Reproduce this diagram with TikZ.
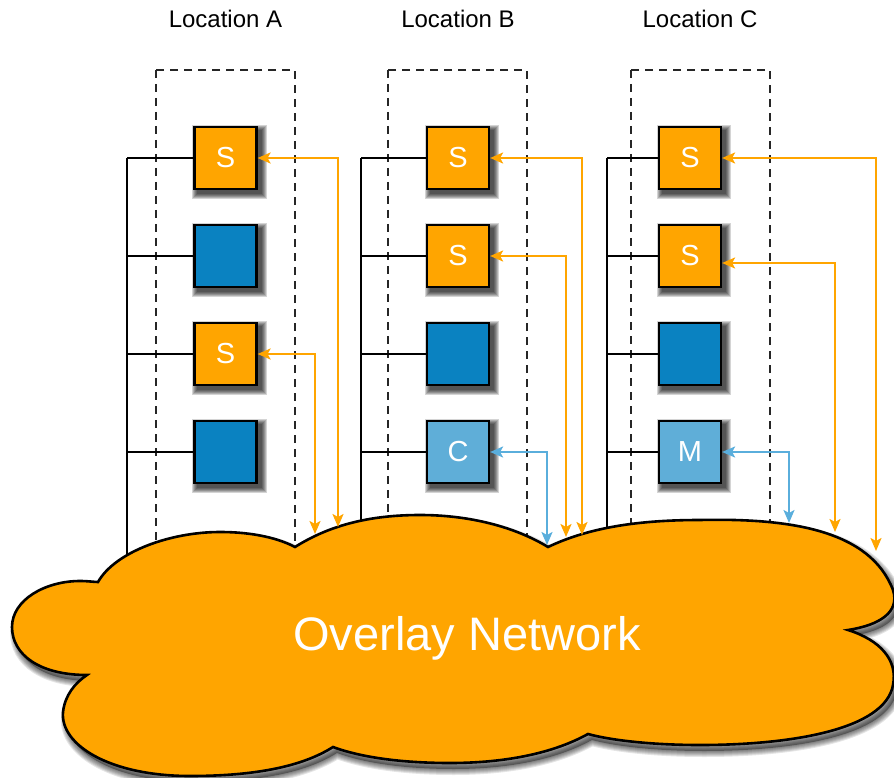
\documentclass[tikz,border=0pt]{standalone}
\usepackage{fontspec}
\setmainfont{Liberation Sans}
\usetikzlibrary{arrows.meta,backgrounds}
\definecolor{netorange}{HTML}{FFA500}
\definecolor{nodeblue}{HTML}{0A82C1}
\definecolor{lightblue}{HTML}{5FAED8}
\definecolor{arrowblue}{HTML}{5AAEDC}
\newcommand{\softshadow}[1]{%
  \foreach \g in {0,...,5}{
    \fill[black, opacity=0.17]
      ([shift={(4-\g,4-\g)}]#1.north west) rectangle ([shift={(4+\g,4+\g)}]#1.south east);
  }%
}
\begin{document}
\begin{tikzpicture}[x=1pt,y=-1pt,
  box/.style={draw=black, line width=2.2pt, minimum size=62pt, inner sep=0pt,
    text=white, font=\fontsize{29}{34}\selectfont},
  sbox/.style={box, fill=netorange},
  bbox/.style={box, fill=nodeblue},
  lbox/.style={box, fill=lightblue},
  loc/.style={font=\fontsize{24}{28}\selectfont, anchor=base},
  site/.style={draw=black!85, line width=2.2pt, dash pattern=on 8pt off 6pt},
  bus/.style={draw=black, line width=2.6pt},
  tap/.style={draw=black, line width=2pt},
  olink/.style={draw=netorange, line width=2.2pt,
    {Stealth[length=13pt,width=11pt,inset=3pt]}-{Stealth[length=13pt,width=11pt,inset=3pt]}},
  blink/.style={olink, draw=arrowblue},
  cloudoutline/.style={insert path={
  (98,582) .. controls (115,552) and (170,532) .. (220,532)
  .. controls (255,532) and (280,539) .. (295,547)
  .. controls (330,525) and (370,515) .. (420,515)
  .. controls (470,515) and (515,527) .. (548,547)
  .. controls (590,527) and (640,520) .. (700,520)
  .. controls (790,518) and (870,530) .. (893,590)
  .. controls (900,612) and (880,625) .. (848,630)
  .. controls (880,640) and (898,660) .. (893,685)
  .. controls (885,730) and (790,745) .. (700,745)
  .. controls (650,745) and (610,740) .. (588,734)
  .. controls (550,755) and (500,763) .. (450,763)
  .. controls (400,763) and (360,757) .. (333,747)
  .. controls (300,768) and (250,776) .. (190,776)
  .. controls (110,776) and (60,745) .. (63,712)
  .. controls (65,695) and (75,683) .. (87,675)
  .. controls (40,675) and (12,655) .. (12,627)
  .. controls (12,600) and (45,581) .. (80,581)
  .. controls (88,581) and (94,582) .. (98,582) -- cycle}},
  cloudshape/.style={fill=netorange, draw=black, line width=2.6pt},
  nettext/.style={text=white, font=\fontsize{47}{54}\selectfont, anchor=base}
]
\useasboundingbox (0,0) rectangle (894,778);

% location labels
\node[loc] (locA) at (225.5,28) {Location A};
\node[loc] (locB) at (458,28) {Location B};
\node[loc] (locC) at (700,28) {Location C};

% bus coordinates
\coordinate (busA) at (127,580);
\coordinate (busB) at (361,580);
\coordinate (busC) at (607,580);

% boxes
\node[sbox] (a1) at (225.5,158) {S};
\node[bbox] (a2) at (225.5,256) {};
\node[sbox] (a3) at (225.5,354) {S};
\node[bbox] (a4) at (225.5,452) {};

\node[sbox] (b1) at (458,158) {S};
\node[sbox] (b2) at (458,256) {S};
\node[bbox] (b3) at (458,354) {};
\node[lbox] (b4) at (458,452) {C};

\node[sbox] (c1) at (690,158) {S};
\node[sbox] (c2) at (690,256) {S};
\node[bbox] (c3) at (690,354) {};
\node[lbox] (c4) at (690,452) {M};

\begin{scope}[on background layer]
  % box shadows
  \foreach \n in {a1,a2,a3,a4,b1,b2,b3,b4,c1,c2,c3,c4}{\softshadow{\n}}
  % sites (dashed)
  \draw[site] (156,70) rectangle (295,600);
  \draw[site] (388,70) rectangle (527,600);
  \draw[site] (631,70) rectangle (770,600);
  % buses and taps
  \foreach \s/\b in {a/busA,b/busB,c/busC}{
    \draw[bus] (\s1.west -| \b) -- (\b);
    \foreach \i in {1,2,3,4}{
      \draw[tap] (\s\i.west) -- (\s\i.west -| \b);
    }
  }
\end{scope}

% cloud shadow
\begin{scope}[shift={(4,6)}]
  \fill[black, opacity=0.35, cloudoutline];
  \foreach \g in {1,...,6}{
    \draw[black, opacity=0.1, line width=2*\g pt, cloudoutline];
  }
\end{scope}
% overlay network cloud
\path[cloudshape, cloudoutline];
\node[nettext] (net) at (467,650) {Overlay Network};

% arrow end points on the cloud
\coordinate (ea1) at (338,527);
\coordinate (ea3) at (315,534);
\coordinate (eb1) at (582,535);
\coordinate (eb2) at (566,537);
\coordinate (eb4) at (547,545);
\coordinate (ec1) at (876,551);
\coordinate (ec2) at (835,532);
\coordinate (ec4) at (789,523);

\draw[olink] (a1.east) -| (ea1);
\draw[olink] (a3.east) -| (ea3);
\draw[olink] (b1.east) -| (eb1);
\draw[olink] (b2.east) -| (eb2);
\draw[blink] (b4.east) -| (eb4);
\draw[olink] (c1.east) -| (ec1);
\draw[olink] ([yshift=-7pt]c2.east) -| (ec2);
\draw[blink] (c4.east) -| (ec4);
\end{tikzpicture}
\end{document}
